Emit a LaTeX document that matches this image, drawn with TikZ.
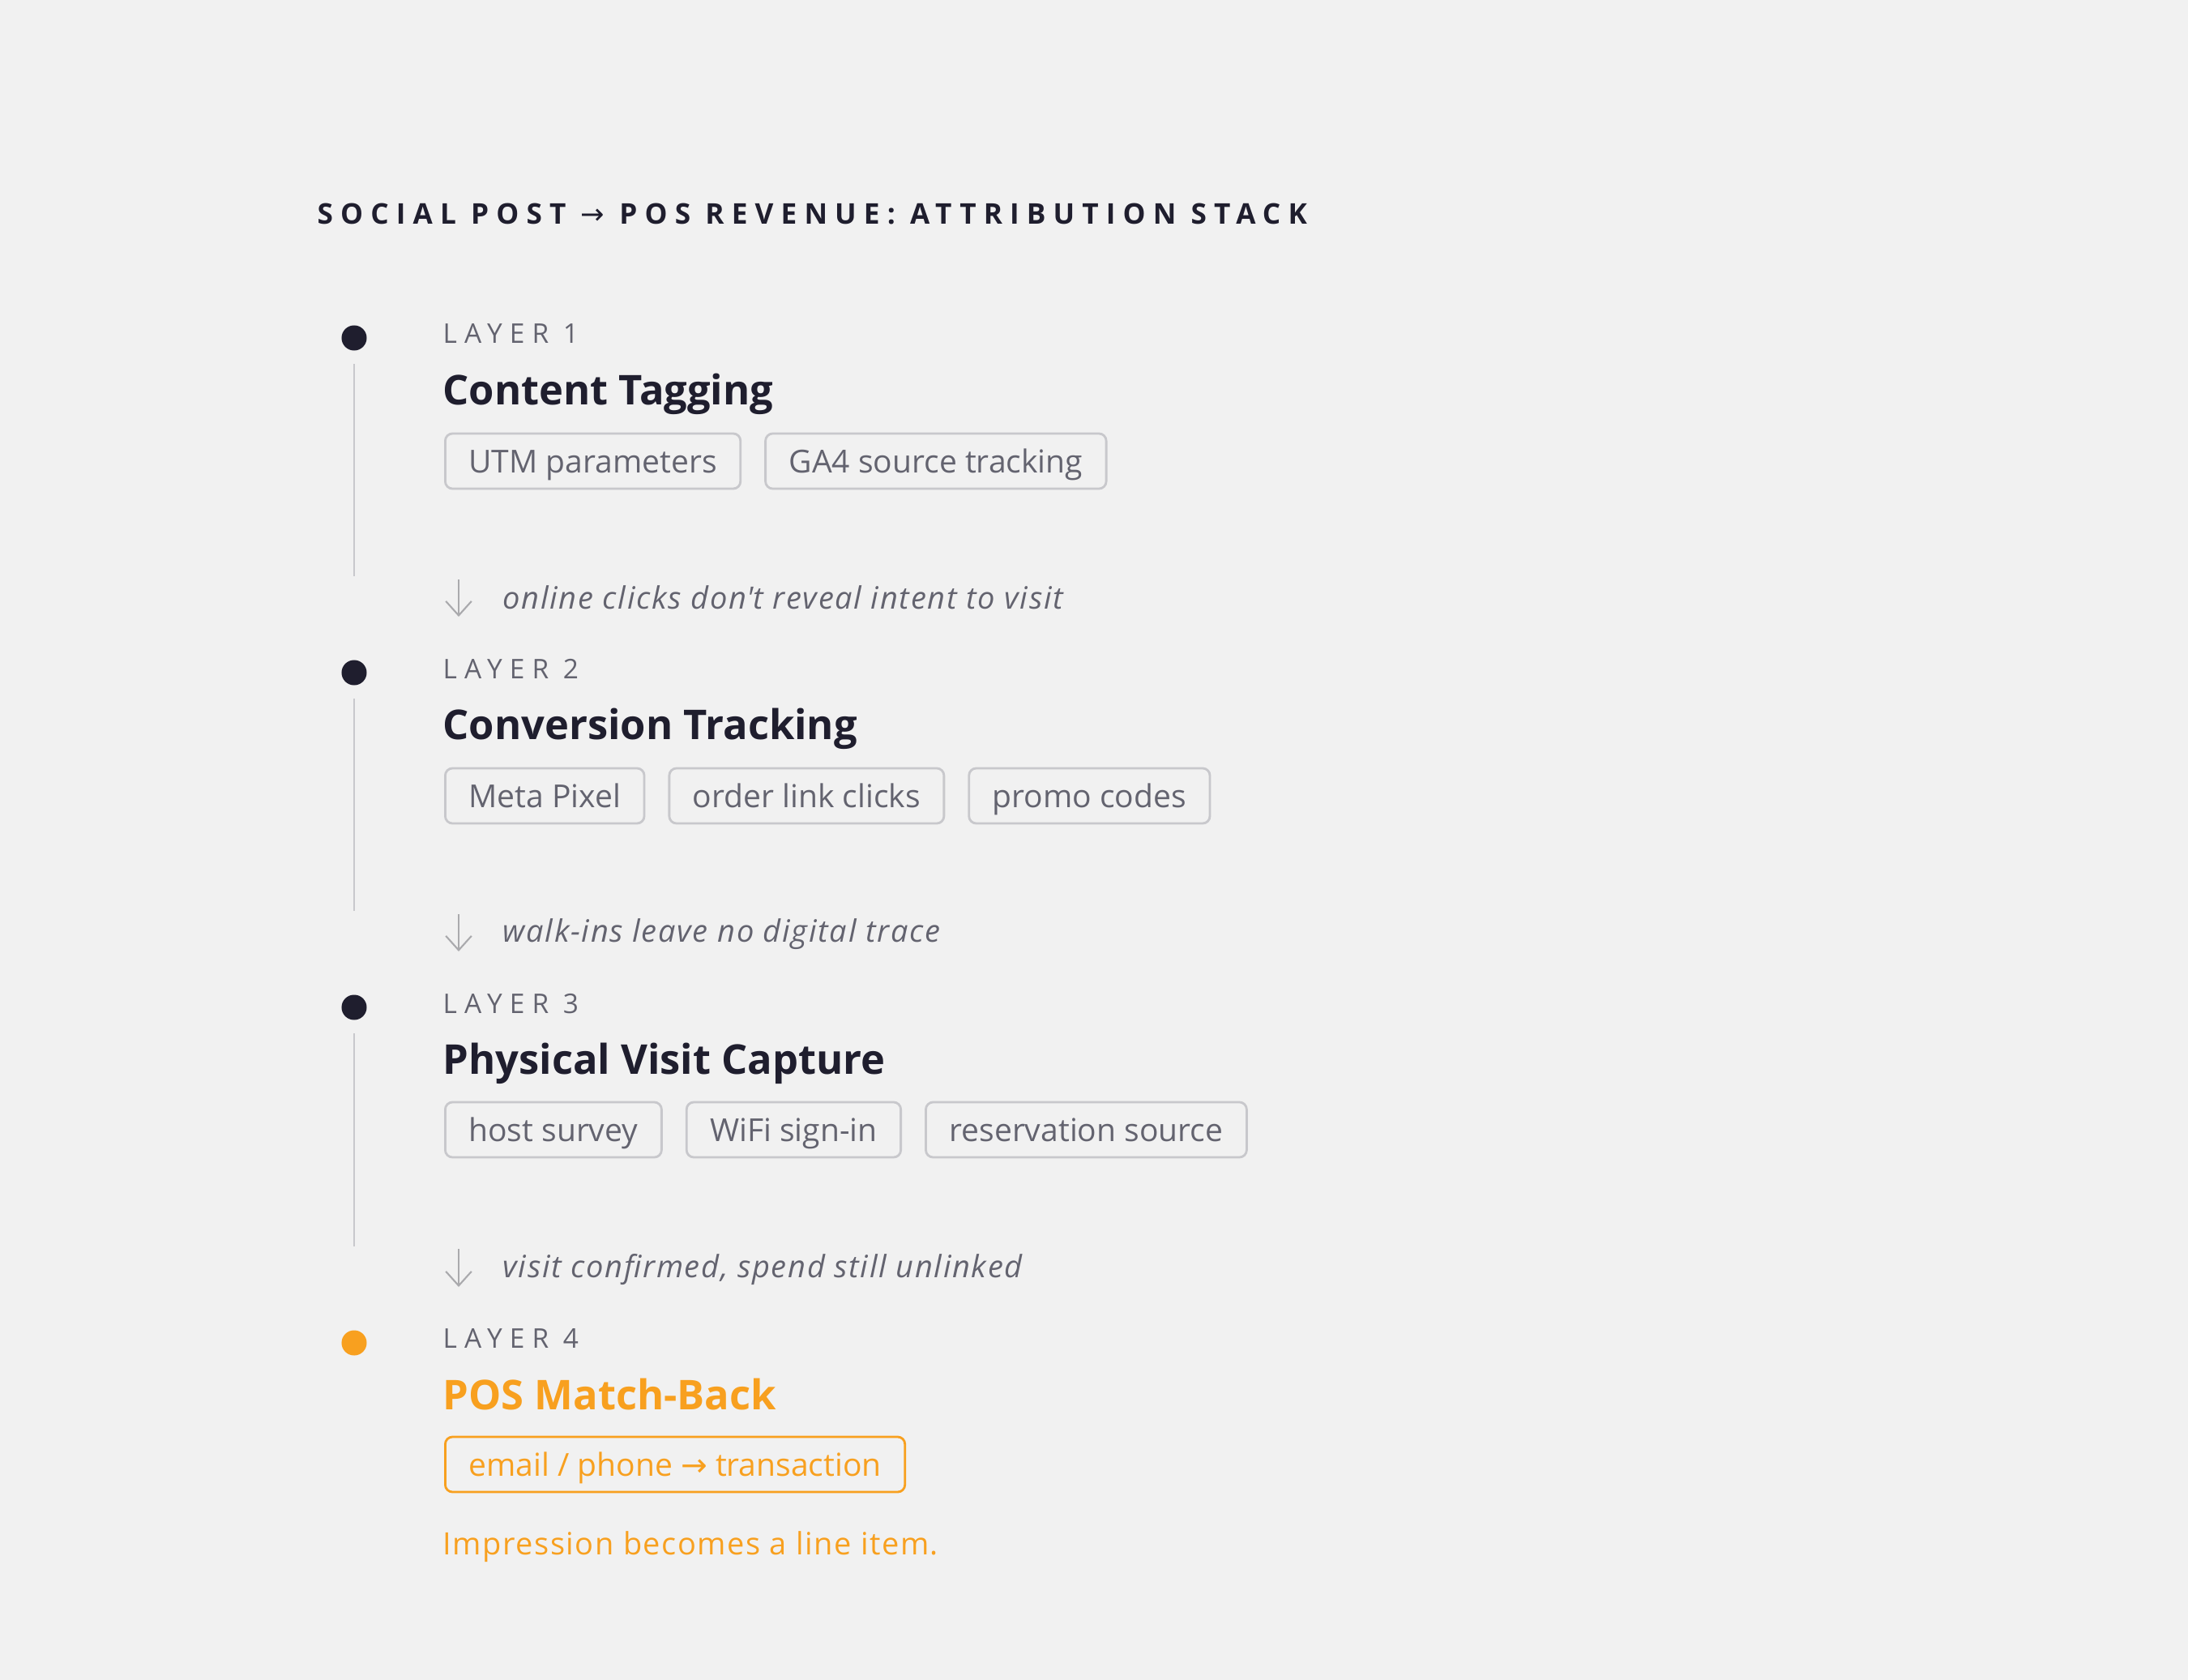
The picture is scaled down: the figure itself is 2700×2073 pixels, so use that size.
\documentclass[tikz,border=0pt]{standalone}
\usepackage{fontspec}
\setmainfont{Open Sans}
\newfontfamily\arrowfont{DejaVu Sans}
\usetikzlibrary{positioning,arrows.meta}

\definecolor{ink}{HTML}{1F1E2E}
\definecolor{mute}{HTML}{63636F}
\definecolor{rule}{HTML}{C8C8CC}
\definecolor{amber}{HTML}{F8A01F}
\definecolor{paper}{HTML}{F1F1F1}
\newcommand{\toarrow}{{\arrowfont\mdseries →}}

\begin{document}
\begin{tikzpicture}[x=0.01cm,y=-0.01cm,
  dot/.style={circle,fill=ink,minimum size=0.31cm,inner sep=0pt},
  trail/.style={rule,line width=0.6pt,shorten <=0.16cm},
  hint/.style={rule!85!black,line width=0.6pt,-{Straight Barb[length=5pt,width=9pt]}},
  layer/.style={anchor=base west,inner sep=0pt,text=mute,
    font=\fontsize{9.5}{9.5}\selectfont\addfontfeatures{LetterSpace=27}},
  heading/.style={anchor=base west,inner sep=0pt,text=ink,
    font=\fontsize{14.4}{14.4}\selectfont\bfseries},
  tag/.style={draw=rule,line width=0.8pt,rounded corners=0.09cm,fill=paper,
    text=mute,inner xsep=0.29cm,inner ysep=0pt,minimum height=0.68cm,
    text height=0.34cm,text depth=0.05cm,font=\fontsize{11.1}{11.1}\selectfont},
  note/.style={anchor=base west,inner sep=0pt,text=mute,
    font=\fontsize{10.8}{10.8}\selectfont\itshape\addfontfeatures{LetterSpace=4.5}}]

% Draw background
\fill[paper] (0,0) rectangle (2700,2073);
\useasboundingbox (0,0) rectangle (2700,2073);

\node[anchor=base west,inner sep=0pt,text=ink,
  font=\fontsize{10}{10}\selectfont\addfontfeatures{LetterSpace=26}\bfseries]
  (title) at (391,277) {SOCIAL POST \toarrow{} POS REVENUE: ATTRIBUTION STACK};

% Layer 1
\node[dot] (dot1) at (437,417) {};
\coordinate (trail1) at (437,711);
\draw[trail] (dot1) -- (trail1);
\node[layer] (lab1) at (546,424) {LAYER 1};
\node[heading] (head1) at (546,499) {Content Tagging};
\node[tag,anchor=west] (utm) at (548,569) {UTM parameters};
\node[tag,right=0.28cm of utm] (ga4) {GA4 source tracking};

\coordinate (hint1a) at (566,715);
\coordinate (hint1b) at (566,761);
\draw[hint] (hint1a) -- (hint1b);
\node[note] (note1) at (620,751) {online clicks don\textquotesingle t reveal intent to visit};

% Layer 2
\node[dot] (dot2) at (437,830) {};
\coordinate (trail2) at (437,1124);
\draw[trail] (dot2) -- (trail2);
\node[layer] (lab2) at (546,837) {LAYER 2};
\node[heading] (head2) at (546,912) {Conversion Tracking};
\node[tag,anchor=west] (pixel) at (548,982) {Meta Pixel};
\node[tag,right=0.28cm of pixel] (order) {order link clicks};
\node[tag,right=0.28cm of order] (promo) {promo codes};

\coordinate (hint2a) at (566,1128);
\coordinate (hint2b) at (566,1174);
\draw[hint] (hint2a) -- (hint2b);
\node[note] (note2) at (620,1162) {walk-ins leave no digital trace};

% Layer 3
\node[dot] (dot3) at (437,1243) {};
\coordinate (trail3) at (437,1538);
\draw[trail] (dot3) -- (trail3);
\node[layer] (lab3) at (546,1250) {LAYER 3};
\node[heading] (head3) at (546,1325) {Physical Visit Capture};
\node[tag,anchor=west] (survey) at (548,1394) {host survey};
\node[tag,right=0.28cm of survey] (wifi) {WiFi sign-in};
\node[tag,right=0.28cm of wifi] (resv) {reservation source};

\coordinate (hint3a) at (566,1541);
\coordinate (hint3b) at (566,1588);
\draw[hint] (hint3a) -- (hint3b);
\node[note] (note3) at (620,1576) {visit confirmed, spend still unlinked};

% Layer 4
\node[dot,fill=amber] (dot4) at (437,1657) {};
\node[layer] (lab4) at (546,1663) {LAYER 4};
\node[heading,text=amber] (head4) at (546,1739) {POS Match-Back};
\node[tag,anchor=west,draw=amber,text=amber] (match) at (548,1807)
  {email / phone \toarrow{} transaction};
\node[anchor=base west,inner sep=0pt,text=amber,
  font=\fontsize{10.8}{10.8}\selectfont\addfontfeatures{LetterSpace=4}]
  (foot) at (546,1918) {Impression becomes a line item.};
\end{tikzpicture}
\end{document}
